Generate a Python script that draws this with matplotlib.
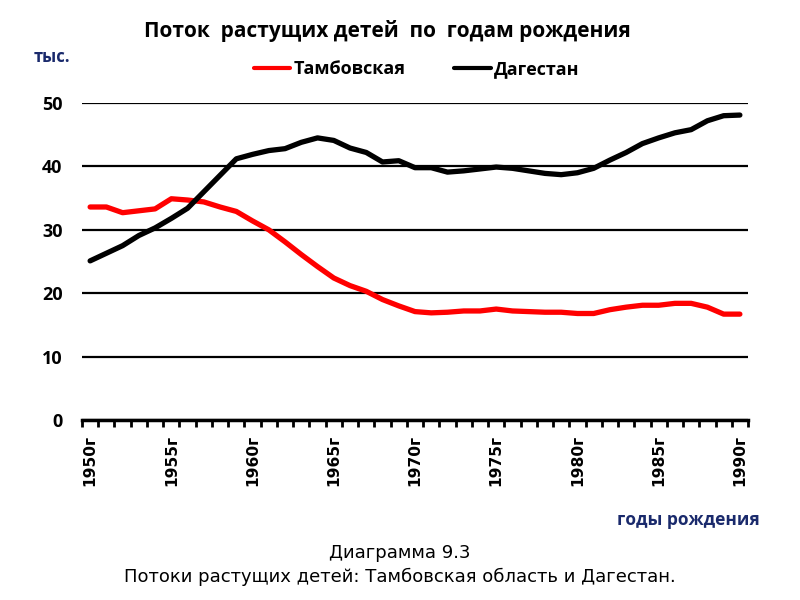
import matplotlib
matplotlib.use("Agg")
import matplotlib.pyplot as plt
from matplotlib.ticker import FixedLocator

years = list(range(1950, 1991))
tambov = [33.6, 33.6, 32.7, 33.0, 33.3, 34.9, 34.7, 34.4, 33.6, 32.9,
          31.4, 30.0, 28.1, 26.1, 24.2, 22.4, 21.2, 20.3, 19.0, 18.0,
          17.1, 16.9, 17.0, 17.2, 17.2, 17.5, 17.2, 17.1, 17.0, 17.0,
          16.8, 16.8, 17.4, 17.8, 18.1, 18.1, 18.4, 18.4, 17.8, 16.7,
          16.7]
dagestan = [25.1, 26.3, 27.5, 29.1, 30.3, 31.8, 33.4, 36.0, 38.6, 41.2,
            41.9, 42.5, 42.8, 43.8, 44.5, 44.1, 42.9, 42.2, 40.7, 40.9,
            39.8, 39.8, 39.1, 39.3, 39.6, 39.9, 39.7, 39.3, 38.9, 38.7,
            39.0, 39.7, 41.0, 42.2, 43.6, 44.5, 45.3, 45.8, 47.2, 48.0,
            48.1]
series_names = ["Тамбовская", "Дагестан"]
series_colors = ["#ff0000", "#000000"]
label_years = list(range(1950, 1991, 5))
tick_labels = [f"{y}г" for y in label_years]
y_ticks = [0, 10, 20, 30, 40, 50]

navy = "#1a2a6c"
fig = plt.figure(figsize=(8, 6), dpi=100)
ax = fig.add_axes([0.1025, 0.30, 0.8325, 0.5283])

for vals, name, col in zip([tambov, dagestan], series_names, series_colors):
    ax.plot(years, vals, color=col, lw=3.8, label=name, solid_capstyle="round",
            solid_joinstyle="round", zorder=3)

ax.set_xlim(years[0] - 0.5, years[-1] + 0.5)
ax.set_ylim(0, 50)
ax.set_yticks(y_ticks)
ax.set_yticklabels([str(v) for v in y_ticks], fontfamily="Open Sans",
                   fontweight="bold", fontsize=13)
ax.yaxis.grid(True, color="black", lw=1.6)
ax.set_axisbelow(True)
ax.tick_params(axis="y", length=0, pad=14)

ax.set_xticks(label_years)
ax.set_xticklabels(tick_labels, rotation=90, fontfamily="DejaVu Sans",
                   fontweight="bold", fontsize=11.2)
ax.xaxis.set_minor_locator(FixedLocator([y - 0.5 for y in years] + [years[-1] + 0.5]))
ax.tick_params(axis="x", which="major", length=0, pad=11)
ax.tick_params(axis="x", which="minor", length=5, width=2, direction="out")

for s in ["left", "right", "top"]:
    ax.spines[s].set_visible(False)
ax.spines["bottom"].set_linewidth(2.5)

fig.text(0.484, 0.948, "Поток  растущих детей  по  годам рождения",
         ha="center", va="center", fontfamily="Open Sans", fontweight="bold",
         fontsize=15)
fig.text(0.042, 0.905, "тыс.", ha="left", va="center", color=navy,
         fontfamily="Open Sans", fontweight="bold", fontsize=12)
fig.text(0.95, 0.133, "годы рождения", ha="right", va="center", color=navy,
         fontfamily="Open Sans", fontweight="bold", fontsize=12.5)
fig.text(0.5, 0.078, "Диаграмма 9.3", ha="center", va="center",
         fontfamily="DejaVu Sans", fontsize=13)
fig.text(0.5, 0.038, "Потоки растущих детей: Тамбовская область и Дагестан.",
         ha="center", va="center", fontfamily="DejaVu Sans", fontsize=13)

leg = fig.legend(loc="center", bbox_to_anchor=(0.521, 0.885), ncol=2, frameon=False,
                 prop={"family": "Open Sans", "weight": "bold", "size": 13},
                 handlelength=2.0, handletextpad=0.2, columnspacing=2.7)
for h in leg.get_lines():
    h.set_linewidth(3.0)

fig.savefig("out.png", dpi=100)
